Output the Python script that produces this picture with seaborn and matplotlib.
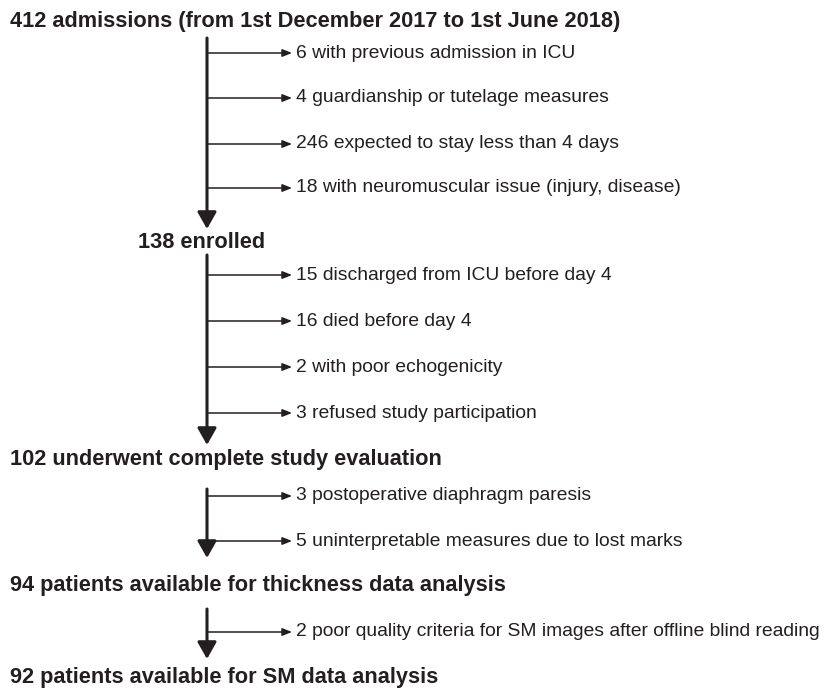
import matplotlib
matplotlib.use("Agg")
import matplotlib.pyplot as plt
import seaborn as sns

# ---- data ----
stage_counts = [412, 138, 102, 94, 92]
stage_labels = [
    "admissions (from 1st December 2017 to 1st June 2018)",
    "enrolled",
    "underwent complete study evaluation",
    "patients available for thickness data analysis",
    "patients available for SM data analysis",
]
excl_counts = [
    [6, 4, 246, 18],
    [15, 16, 2, 3],
    [3, 5],
    [2],
]
excl_labels = [
    ["with previous admission in ICU",
     "guardianship or tutelage measures",
     "expected to stay less than 4 days",
     "with neuromuscular issue (injury, disease)"],
    ["discharged from ICU before day 4",
     "died before day 4",
     "with poor echogenicity",
     "refused study participation"],
    ["postoperative diaphragm paresis",
     "uninterpretable measures due to lost marks"],
    ["poor quality criteria for SM images after offline blind reading"],
]

# ---- layout (pixels) ----
W, H = 833, 689
header_x = [10, 138, 10, 10, 10]
header_y = [21, 242, 460, 586, 677]
trunk_x = 207
trunk_top = [38, 255, 489, 609]
trunk_tip = [229, 445, 558, 659]
branch_y = [[53, 98, 144, 188], [275, 321, 367, 413], [496, 541], [632]]
branch_tip_x = 292
branch_text_x = 296

sns.set_theme(style="white")
plt.rcParams["font.family"] = ["Liberation Sans", "DejaVu Sans"]
ink = "#231f20"

fig = plt.figure(figsize=(W / 100, H / 100), dpi=100)
ax = fig.add_axes([0, 0, 1, 1])
ax.set_xlim(0, W)
ax.set_ylim(H, 0)
ax.axis("off")

for i, (n, lab) in enumerate(zip(stage_counts, stage_labels)):
    ax.text(header_x[i], header_y[i], f"{n} {lab}", fontsize=15.7,
            fontweight="bold", color=ink, va="center", ha="left")

for s in range(len(excl_counts)):
    ax.annotate("", xy=(trunk_x, trunk_tip[s]), xytext=(trunk_x, trunk_top[s]),
                arrowprops=dict(arrowstyle="-|>,head_length=0.85,head_width=0.48",
                                lw=2.2, color=ink, shrinkA=0, shrinkB=0,
                                mutation_scale=12))
    for j, (c, lab) in enumerate(zip(excl_counts[s], excl_labels[s])):
        y = branch_y[s][j]
        ax.annotate("", xy=(branch_tip_x, y), xytext=(trunk_x, y),
                    arrowprops=dict(arrowstyle="-|>,head_length=0.95,head_width=0.38",
                                    lw=1.1, color=ink, shrinkA=0, shrinkB=0,
                                    mutation_scale=6))
        ax.text(branch_text_x, y, f"{c} {lab}", fontsize=13.9, color=ink,
                va="center", ha="left")

sns.despine(ax=ax, left=True, bottom=True)
fig.savefig("out.png", dpi=100, facecolor="white")
